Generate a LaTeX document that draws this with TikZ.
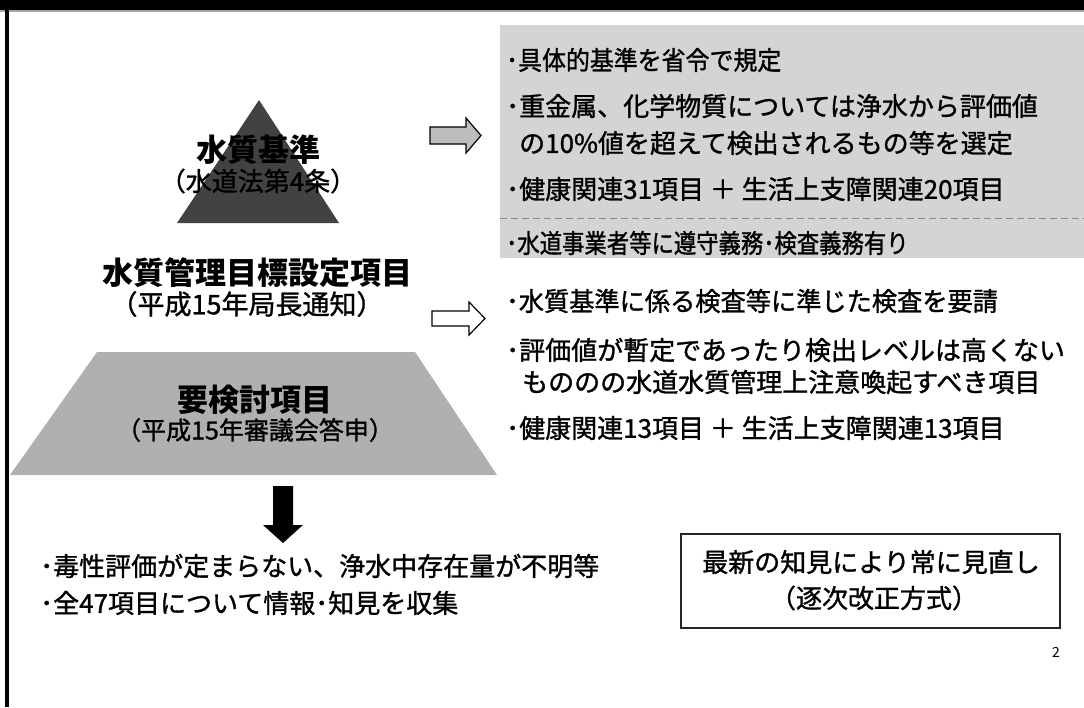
\documentclass[tikz,border=0pt]{standalone}
\usepackage{fontspec}
\setmainfont{Noto Sans CJK JP}
\newfontfamily\bodyjp[FakeBold=1.2]{Noto Sans CJK JP}
\definecolor{blockgrey}{HTML}{D4D4D4}
\definecolor{trigrey}{HTML}{424242}
\definecolor{trapgrey}{HTML}{B0B0B0}
\definecolor{arrgrey}{HTML}{BDBDBD}
\tikzset{
  rowtxt/.style={anchor=west,inner sep=0pt,font=\bodyjp\fontsize{26}{30}\selectfont},
  ttl/.style={inner sep=0pt,font=\bfseries\fontsize{31}{34}\selectfont},
  subttl/.style={inner sep=0pt,font=\bodyjp\fontsize{26}{28}\selectfont},
  boxtxt/.style={inner sep=0pt,font=\bodyjp\fontsize{26}{30}\selectfont},
  blockarrow/.style={draw=black,line width=1.2pt,line join=miter}
}
\begin{document}
\begin{tikzpicture}[x=1pt,y=-1pt]
\useasboundingbox (0,0) rectangle (1084,707);
\fill[white] (0,0) rectangle (1084,707);
% frame
\fill[black] (0,0) rectangle (1084,10);
\fill[black!35] (0,10) rectangle (1084,12);
\fill[black] (5,0) rectangle (8.5,707);
% grey block on the right
\fill[blockgrey] (500,25) rectangle (1084,258);
\draw[black!45,line width=0.8pt,dash pattern=on 7pt off 4pt] (500,218) -- (1084,218);
% right text, upper group
\node[rowtxt] (r1) at (506,60) {\scalebox{0.92}[1]{･具体的基準を省令で規定}};
\node[rowtxt] (r2) at (506,106) {･重金属、化学物質については浄水から評価値};
\node[rowtxt] (r3) at (519,143) {の10\%値を超えて検出されるもの等を選定};
\node[rowtxt] (r4) at (506,189) {･健康関連31項目 ＋ 生活上支障関連20項目};
\node[rowtxt] (r5) at (506,243) {\scalebox{0.86}[1]{･水道事業者等に遵守義務･検査義務有り}};
% right text, lower group
\node[rowtxt] (r6) at (506,301) {\scalebox{0.97}[1]{･水質基準に係る検査等に準じた検査を要請}};
\node[rowtxt] (r7) at (506,350) {･評価値が暫定であったり検出レベルは高くない};
\node[rowtxt] (r8) at (522,382) {もののの水道水質管理上注意喚起すべき項目};
\node[rowtxt] (r9) at (506,428) {･健康関連13項目 ＋ 生活上支障関連13項目};
% pyramid top
\fill[trigrey] (259,100) -- (339,223) -- (177,223) -- cycle;
\node[ttl] (t1) at (258,150) {水質基準};
\node[subttl] (s1) at (258,181) {（水道法第4条）};
% middle level
\node[ttl] (t2) at (257,273) {水質管理目標設定項目};
\node[subttl,font=\bodyjp\fontsize{27}{30}\selectfont] (s2) at (247,304) {（平成15年局長通知）};
% trapezoid
\fill[trapgrey] (97,352) -- (415,352) -- (497,475) -- (10,475) -- cycle;
\node[ttl] (t3) at (255,400) {要検討項目};
\node[subttl,font=\bodyjp\fontsize{25}{28}\selectfont] (s3) at (255,430) {（平成15年審議会答申）};
% block arrows
\draw[blockarrow,fill=arrgrey] (430,127) -- (466,127) -- (466,118) -- (481,135.5) -- (466,153) -- (466,144) -- (430,144) -- cycle;
\draw[blockarrow,fill=white] (432,311) -- (469,311) -- (469,302) -- (485,318.5) -- (469,335) -- (469,326) -- (432,326) -- cycle;
\fill[black] (273,486) -- (293,486) -- (293,525) -- (303,525) -- (283,543) -- (263,525) -- (273,525) -- cycle;
% bottom left text
\node[rowtxt] (b1) at (40,566) {･毒性評価が定まらない、浄水中存在量が不明等};
\node[rowtxt] (b2) at (40,603) {･全47項目について情報･知見を収集};
% box
\node[draw=black!85,line width=1.8pt,minimum width=379pt,minimum height=94pt,inner sep=0pt] (box) at (870.5,581) {};
\node[boxtxt] (bx1) at (871,562) {最新の知見により常に見直し};
\node[boxtxt] (bx2) at (874,598) {（逐次改正方式）};
% page number
\node[inner sep=0pt,font=\fontsize{14}{16}\selectfont] (pg) at (1056,652) {2};
\end{tikzpicture}
\end{document}
